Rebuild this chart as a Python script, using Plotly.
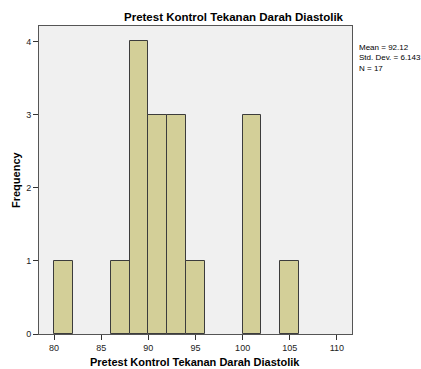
import plotly.graph_objects as go

bin_centers = [81, 87, 89, 91, 93, 95, 101, 105]
counts = [1, 1, 4, 3, 3, 1, 3, 1]
bin_width = 2
x_ticks = [80, 85, 90, 95, 100, 105, 110]
y_ticks = [0, 1, 2, 3, 4]
stats_lines = ["Mean = 92.12", "Std. Dev. = 6.143", "N = 17"]
title = "Pretest Kontrol Tekanan Darah Diastolik"

fig = go.Figure()
fig.add_trace(go.Bar(
    x=bin_centers, y=counts, width=[bin_width] * len(counts),
    marker=dict(color="#D3CF98", line=dict(color="#3C3C3C", width=1)),
    showlegend=False,
))

W, H = 421, 369
L, R, T, B = 39, 352, 26, 334
fig.update_layout(
    width=W, height=H,
    margin=dict(l=L, r=W - R, t=T, b=H - B),
    paper_bgcolor="white", plot_bgcolor="#F0F0F0",
    bargap=0,
    font=dict(family="Arial, Liberation Sans, sans-serif", size=9, color="#000"),
    xaxis=dict(range=[78.4, 111.6], tickvals=x_ticks, ticks="outside", ticklen=5,
               tickcolor="#333", showgrid=False, zeroline=False,
               showline=True, linecolor="#555", mirror=True,
               tickfont=dict(size=9, color="#222")),
    yaxis=dict(range=[0, 4.21], tickvals=y_ticks, ticks="outside", ticklen=5,
               tickcolor="#333", showgrid=False, zeroline=False,
               showline=True, linecolor="#555", mirror=True,
               tickfont=dict(size=9, color="#222")),
)

fig.add_annotation(text="<b>" + title + "</b>", xref="paper", yref="paper",
                   x=(234 - L) / (R - L), y=1 + (T - 17) / (B - T),
                   showarrow=False, font=dict(size=11.5), xanchor="center", yanchor="middle")
fig.add_annotation(text="<b>" + title + "</b>", xref="paper", yref="paper",
                   x=(195 - L) / (R - L), y=-(362 - B) / (B - T),
                   showarrow=False, font=dict(size=11), xanchor="center", yanchor="middle")
fig.add_annotation(text="<b>Frequency</b>", xref="paper", yref="paper",
                   x=-(L - 16) / (R - L), y=(B - 180) / (B - T), textangle=-90,
                   showarrow=False, font=dict(size=11), xanchor="center", yanchor="middle")
fig.add_annotation(text="<br>".join(stats_lines), xref="paper", yref="paper",
                   x=1 + (357 - R) / (R - L), y=(B - 41) / (B - T),
                   showarrow=False, font=dict(size=8), xanchor="left", yanchor="top",
                   align="left")

fig.write_html("out.html")
